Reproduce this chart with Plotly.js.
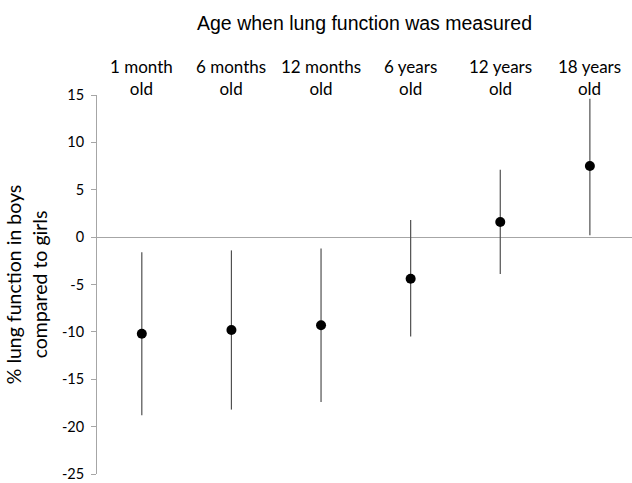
<!DOCTYPE html>
<html>
<head>
<meta charset="utf-8">
<script src="https://cdn.plot.ly/plotly-3.0.1.min.js"></script>
<style>html,body{margin:0;padding:0;background:#fff}#chart{width:632px;height:483px}</style>
</head>
<body>
<div id="chart"></div>
<script>
var categories = ["1 month<br>old", "6 months<br>old", "12 months<br>old", "6 years<br>old", "12 years<br>old", "18 years<br>old"];
var estimate = [-10.2, -9.8, -9.3, -4.4, 1.6, 7.5];
var upper = [-1.6, -1.4, -1.2, 1.8, 7.1, 14.6];
var lower = [-18.8, -18.2, -17.4, -10.5, -3.9, 0.2];
var yTicks = [-25, -20, -15, -10, -5, 0, 5, 10, 15];

var idx = categories.map(function(_, i){ return i; });
var errPlus = upper.map(function(u, i){ return u - estimate[i]; });
var errMinus = lower.map(function(l, i){ return estimate[i] - l; });

var trace = {
  x: idx, y: estimate, type: 'scatter', mode: 'markers',
  marker: {color: '#000', size: 10},
  error_y: {type: 'data', symmetric: false, array: errPlus, arrayminus: errMinus,
            color: '#505050', thickness: 1.2, width: 0},
  hoverinfo: 'none', showlegend: false
};

var ann = categories.map(function(c, i){
  return {x: i, y: 1.046, xref: 'x', yref: 'paper', text: c, showarrow: false,
          yanchor: 'middle', xanchor: 'center',
          font: {family: 'Lato, "Open Sans", sans-serif', size: 17, color: '#000'}};
});

var layout = {
  width: 632, height: 483,
  margin: {l: 97, r: 0, t: 95, b: 9},
  paper_bgcolor: '#fff', plot_bgcolor: '#fff',
  title: {text: 'Age when lung function was measured', x: 0.5, xref: 'paper',
          y: 0.953, yref: 'container', yanchor: 'middle',
          font: {family: '"Liberation Sans", Arial, sans-serif', size: 19.5, color: '#000'}},
  xaxis: {range: [-0.5, 5.47], showticklabels: false, showgrid: false, zeroline: false,
          showline: false, ticks: ''},
  yaxis: {range: [-25, 15], tickvals: yTicks, ticktext: yTicks.map(String),
          showgrid: false, zeroline: true, zerolinecolor: '#a6a6a6', zerolinewidth: 1.2,
          showline: true, linecolor: '#a6a6a6', linewidth: 1,
          ticks: 'outside', ticklen: 5, tickcolor: '#a6a6a6',
          ticklabelstandoff: 4, ticklabeloverflow: 'allow',
          tickfont: {family: 'Lato, "Open Sans", sans-serif', size: 14.5, color: '#000'},
          title: {text: '% lung function in boys<br>compared to girls', standoff: 9,
                  font: {family: 'Lato, "Open Sans", sans-serif', size: 19.5, color: '#000'}}},
  annotations: ann
};

Plotly.newPlot('chart', [trace], layout, {staticPlot: true, displayModeBar: false});
</script>
</body>
</html>
